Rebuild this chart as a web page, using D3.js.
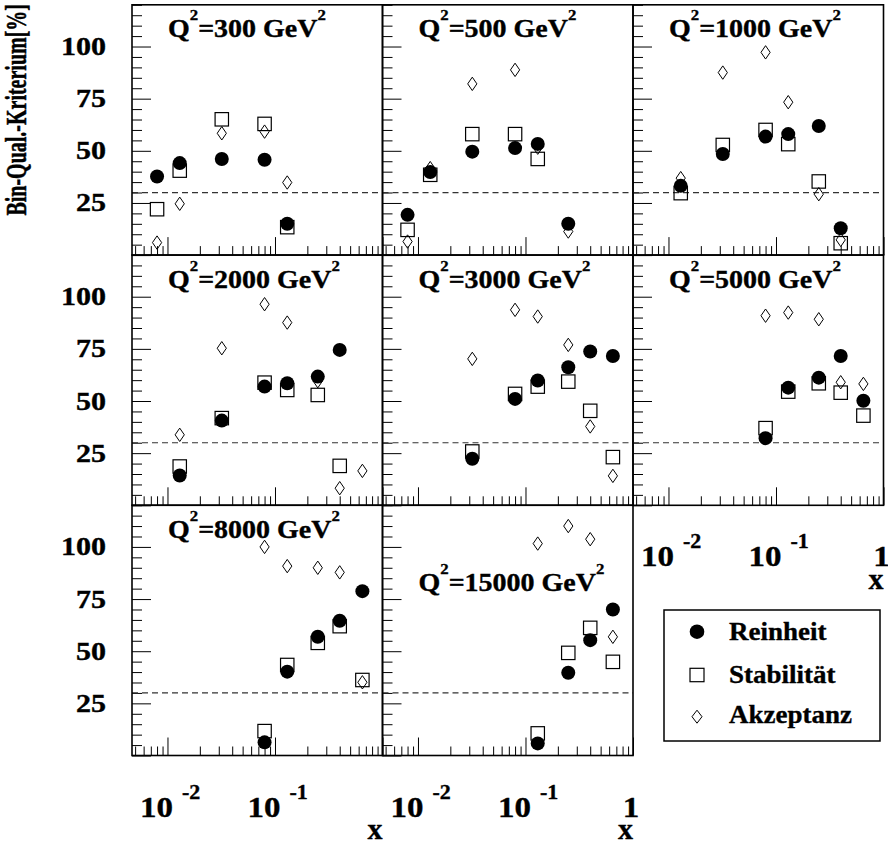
<!DOCTYPE html>
<html><head><meta charset="utf-8">
<script src="https://cdn.jsdelivr.net/npm/d3@7"></script>
<style>
body{margin:0;background:#fff}
text{font-family:"Liberation Serif","Times New Roman",serif;font-weight:bold;fill:#000;stroke:#000;stroke-width:0.35px}
</style>
</head><body>
<svg id="c" width="888" height="844"></svg>
<script>
// ---------- data ----------
const panelQ2 = ["300", "500", "1000", "2000", "3000", "5000", "8000", "15000"];
const xBins = [
  [0.008, 0.013, 0.032, 0.08, 0.13],
  [0.008, 0.013, 0.032, 0.08, 0.13, 0.25],
  [0.013, 0.032, 0.08, 0.13, 0.25, 0.4],
  [0.013, 0.032, 0.08, 0.13, 0.25, 0.4, 0.65],
  [0.032, 0.08, 0.13, 0.25, 0.4, 0.65],
  [0.08, 0.13, 0.25, 0.4, 0.65],
  [0.08, 0.13, 0.25, 0.4, 0.65],
  [0.13, 0.25, 0.4, 0.65]
];
const reinheit = [
  [37.7, 44.1, 46.1, 45.7, 15.0],
  [19.3, 39.8, 49.6, 51.3, 53.3, 15.0],
  [33.2, 48.5, 56.8, 58.0, 61.9, 12.9],
  [14.3, 40.6, 56.9, 58.5, 61.7, 74.5, null],
  [22.3, 51.0, 59.8, 66.2, 73.7, 71.6],
  [32.2, 56.4, 61.2, 71.6, 50.1],
  [6.3, 40.2, 56.9, 64.6, 78.8],
  [5.8, 39.7, 55.3, 70.0]
];
const stabilitaet = [
  [22.0, 40.5, 65.1, 62.9, 13.4],
  [12.1, 38.5, 58.0, 58.0, 46.1, null],
  [29.7, 52.8, 60.0, 53.2, 35.3, 5.7],
  [18.6, 41.8, 58.8, 55.3, 52.9, 18.9, null],
  [25.8, 53.4, 56.9, 59.3, 45.3, 23.1],
  [37.0, 54.5, 58.5, 54.0, 43.0],
  [11.7, 43.4, 54.0, 62.0, 36.2],
  [10.6, 49.2, 61.2, 44.9]
];
const akzeptanz = [
  [6.0, 24.6, 58.4, 59.2, 34.8],
  [6.5, 41.7, 82.1, 88.8, 51.5, 11.3],
  [36.9, 87.5, 97.2, 73.3, 29.2, 7.3],
  [33.8, 75.3, 96.4, 87.6, 59.5, 8.2, 16.5],
  [70.2, 93.7, 90.5, 76.9, 37.8, 14.1],
  [90.9, 92.4, 89.2, 59.0, 58.2],
  [100.0, 90.8, 90.0, 87.8, 35.1],
  [101.6, 110.0, 103.7, 56.9]
];
const yTickLabels = [25, 50, 75, 100];
const xTickLabels = [{v: 0.01, b: "10", e: "-2"}, {v: 0.1, b: "10", e: "-1"}, {v: 1, b: "1", e: ""}];
const cutLine = 30;
const legendNames = ["Reinheit", "Stabilität", "Akzeptanz"];

// ---------- layout ----------
const svg = d3.select("#c");
svg.append("rect").attr("width", 888).attr("height", 844).attr("fill", "#fff");
const colX = [132, 382.5, 633], rowY = [4.8, 255, 505.2];
const W = 250.5, H = 250.3;
const x = d3.scaleLog().domain([Math.pow(10, -2.33), 1]).range([0, W]);
const y = d3.scaleLinear().domain([0, 120]).range([H, 0]);

function hText(g, tx, ty, sx, size, str, anchor) {
  return g.append("text")
    .attr("transform", `translate(${tx},${ty}) scale(${sx},1)`)
    .attr("font-size", size).attr("text-anchor", anchor || "start").text(str);
}

const minorY = d3.range(0, 121, 5).filter(v => v % 25 !== 0);
const majorY = [0, 25, 50, 75, 100];
const majorX = [0.01, 0.1, 1];
const minorX = [];
[0.001, 0.01, 0.1].forEach(d => { for (let k = 2; k <= 9; k++) minorX.push(d * k); });
const minorXin = minorX.filter(v => v >= x.domain()[0] && v <= 1);

panelQ2.forEach((q, i) => {
  const col = i % 3, row = Math.floor(i / 3);
  const g = svg.append("g").attr("transform", `translate(${colX[col]},${rowY[row]})`);

  // ticks (inward)
  const ax1 = g.append("g").call(d3.axisRight(y).tickValues(minorY).tickSize(10).tickFormat(""));
  const ax2 = g.append("g").call(d3.axisRight(y).tickValues(majorY).tickSize(19).tickFormat(""));
  const ax3 = g.append("g").attr("transform", `translate(0,${H})`).call(d3.axisTop(x).tickValues(minorXin).tickSize(9).tickFormat(""));
  const ax4 = g.append("g").attr("transform", `translate(0,${H})`).call(d3.axisTop(x).tickValues(majorX).tickSize(18).tickFormat(""));
  [ax1, ax2, ax3, ax4].forEach(a => { a.select(".domain").remove(); a.selectAll("line").attr("stroke", "#000").attr("stroke-width", 1); });

  // dashed cut line
  g.append("line").attr("x1", 0).attr("x2", W).attr("y1", y(cutLine)).attr("y2", y(cutLine))
    .attr("stroke", "#333").attr("stroke-width", 1.2).attr("stroke-dasharray", "6,4");

  // markers
  const xs = xBins[i];
  const sq = xs.map((v, k) => ({v, s: stabilitaet[i][k]})).filter(d => d.s != null);
  g.selectAll("rect.sq").data(sq).enter().append("rect")
    .attr("x", d => x(d.v) - 6.7).attr("y", d => y(d.s) - 6.7).attr("width", 13.4).attr("height", 13.4)
    .attr("fill", "none").attr("stroke", "#000").attr("stroke-width", 1.2);
  const di = xs.map((v, k) => ({v, a: akzeptanz[i][k]})).filter(d => d.a != null);
  g.selectAll("path.di").data(di).enter().append("path")
    .attr("d", d => { const cx = x(d.v), cy = y(d.a); return `M${cx},${cy - 6.7}L${cx + 4.6},${cy}L${cx},${cy + 6.7}L${cx - 4.6},${cy}Z`; })
    .attr("fill", "none").attr("stroke", "#000").attr("stroke-width", 1);
  const ci = xs.map((v, k) => ({v, r: reinheit[i][k]})).filter(d => d.r != null);
  g.selectAll("circle.ci").data(ci).enter().append("circle")
    .attr("cx", d => x(d.v)).attr("cy", d => y(d.r)).attr("r", 7).attr("fill", "#000");

  // frame
  g.append("rect").attr("width", W).attr("height", H).attr("fill", "none").attr("stroke", "#000").attr("stroke-width", 1.6);

  // Q2 label
  const ly = (q === "15000") ? 85.5 : 32.5;
  const t = g.append("text").attr("transform", `translate(36,${ly}) scale(1.12,1)`).attr("font-size", 25);
  t.append("tspan").text("Q");
  t.append("tspan").attr("font-size", 15).attr("dy", -17).text("2");
  t.append("tspan").attr("dy", 17).text("=" + q + " GeV");
  t.append("tspan").attr("font-size", 15).attr("dy", -17).text("2");

  // y tick labels
  if (col === 0) {
    yTickLabels.forEach(v => hText(svg, 106, rowY[row] + y(v) + 8.5, 1.2, 25, String(v), "end"));
  }
  // x tick labels
  if (i >= 5) {
    const base = rowY[row] + H;
    xTickLabels.forEach(tk => {
      if (tk.v === 1 && i === 6) return;
      const px = colX[col] + x(tk.v);
      if (tk.e) {
        hText(svg, px + 5.5, base + 61, 1.1, 30, tk.b, "end");
        hText(svg, px + 14.5, base + 43, 1.1, 20, tk.e, "start");
      } else {
        hText(svg, px - 2, base + 61, 1.1, 30, tk.b, "middle");
      }
    });
    hText(svg, colX[col] + W, base + 83.5, 1.0, 30, "x", "end");
  }
});

// y title
svg.append("text")
  .attr("transform", "translate(26,4) scale(1.5,1) rotate(-90)")
  .attr("font-size", 20).attr("text-anchor", "end").text("Bin-Qual.-Kriterium[%]");

// legend
const lg = svg.append("g");
lg.append("rect").attr("x", 664).attr("y", 610).attr("width", 216).attr("height", 131)
  .attr("fill", "#fff").attr("stroke", "#000").attr("stroke-width", 1.5);
const legY = [631.7, 675, 716.7];
lg.append("circle").attr("cx", 697).attr("cy", legY[0]).attr("r", 7.3).attr("fill", "#000");
lg.append("rect").attr("x", 697 - 7).attr("y", legY[1] - 6.7).attr("width", 14).attr("height", 13.4)
  .attr("fill", "none").attr("stroke", "#000").attr("stroke-width", 1.2);
lg.append("path").attr("d", `M697,${legY[2] - 6.5}L${697 + 5},${legY[2]}L697,${legY[2] + 6.5}L${697 - 5},${legY[2]}Z`)
  .attr("fill", "none").attr("stroke", "#000").attr("stroke-width", 1);
const legBase = [640, 682.5, 723.3];
legendNames.forEach((n, k) => hText(lg, 729, legBase[k], 1.08, 25, n, "start"));
</script>
</body></html>
